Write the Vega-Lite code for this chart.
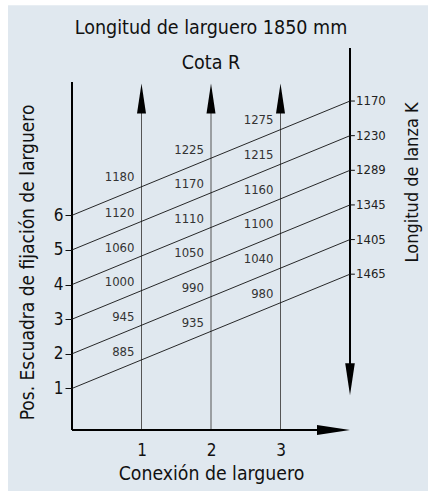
{
  "$schema": "https://vega.github.io/schema/vega-lite/v6.json",
  "width": 278,
  "height": 348,
  "autosize": {"type": "none"},
  "padding": {"left": 72, "top": 82, "right": 78, "bottom": 61},
  "background": "white",
  "config": {
    "view": {"stroke": null},
    "font": "Liberation Sans Narrow, DejaVu Sans Condensed, sans-serif"
  },
  "datasets": {
    "bg": [{"x": -0.921, "x2": 5.5, "y": 12.07, "y2": -3}],
    "titles": [
      {"x": 2, "y": 11.4, "t": "Longitud de larguero 1850 mm"},
      {"x": 2, "y": 10.39, "t": "Cota R"}
    ],
    "verticals": [
      {"x": 1, "y": -0.2, "y2": 9.5},
      {"x": 2, "y": -0.2, "y2": 9.5},
      {"x": 3, "y": -0.2, "y2": 9.5}
    ],
    "upTips": [
      {"x": 1, "y": 9.81},
      {"x": 2, "y": 9.81},
      {"x": 3, "y": 9.81}
    ],
    "leftAxis": [{"x": 0, "y": -0.2, "y2": 9.85}],
    "bottomAxis": [{"x": 0, "x2": 3.7, "y": -0.2}],
    "rightTip": [{"x": 4, "y": -0.2}],
    "kAxis": [{"x": 4, "y": 10.83, "y2": 1.6}],
    "downTip": [{"x": 4, "y": 0.8}],
    "lines": [
      {"k": 1, "x": 0, "y": 1}, {"k": 1, "x": 4, "y": 4.3},
      {"k": 2, "x": 0, "y": 2}, {"k": 2, "x": 4, "y": 5.3},
      {"k": 3, "x": 0, "y": 3}, {"k": 3, "x": 4, "y": 6.3},
      {"k": 4, "x": 0, "y": 4}, {"k": 4, "x": 4, "y": 7.3},
      {"k": 5, "x": 0, "y": 5}, {"k": 5, "x": 4, "y": 8.3},
      {"k": 6, "x": 0, "y": 6}, {"k": 6, "x": 4, "y": 9.3}
    ],
    "kLabels": [
      {"x": 4, "x2": 4.07, "y": 9.3, "K": "1170"},
      {"x": 4, "x2": 4.07, "y": 8.3, "K": "1230"},
      {"x": 4, "x2": 4.07, "y": 7.3, "K": "1289"},
      {"x": 4, "x2": 4.07, "y": 6.3, "K": "1345"},
      {"x": 4, "x2": 4.07, "y": 5.3, "K": "1405"},
      {"x": 4, "x2": 4.07, "y": 4.3, "K": "1465"}
    ],
    "rValues": [
      {"x": 1, "y": 7.1, "R": "1180"},
      {"x": 1, "y": 6.06, "R": "1120"},
      {"x": 1, "y": 5.07, "R": "1060"},
      {"x": 1, "y": 4.06, "R": "1000"},
      {"x": 1, "y": 3.05, "R": "945"},
      {"x": 1, "y": 2.04, "R": "885"},
      {"x": 2, "y": 7.88, "R": "1225"},
      {"x": 2, "y": 6.9, "R": "1170"},
      {"x": 2, "y": 5.9, "R": "1110"},
      {"x": 2, "y": 4.9, "R": "1050"},
      {"x": 2, "y": 3.9, "R": "990"},
      {"x": 2, "y": 2.88, "R": "935"},
      {"x": 3, "y": 8.74, "R": "1275"},
      {"x": 3, "y": 7.73, "R": "1215"},
      {"x": 3, "y": 6.74, "R": "1160"},
      {"x": 3, "y": 5.74, "R": "1100"},
      {"x": 3, "y": 4.73, "R": "1040"},
      {"x": 3, "y": 3.74, "R": "980"}
    ],
    "rightTitle": [{"x": 4, "y": 6.95, "t": "Longitud de lanza K"}]
  },
  "encoding": {
    "x": {
      "field": "x",
      "type": "quantitative",
      "scale": {"domain": [0, 4], "nice": false, "zero": false},
      "axis": {
        "values": [1, 2, 3],
        "domain": false,
        "ticks": false,
        "grid": false,
        "labelFontSize": 17,
        "labelColor": "#111111",
        "labelPadding": 12,
        "title": "Conexión de larguero",
        "titleFontSize": 19.3,
        "titleFontWeight": "normal",
        "titleColor": "#111111",
        "titlePadding": 6,
        "zindex": 1
      }
    },
    "y": {
      "field": "y",
      "type": "quantitative",
      "scale": {"domain": [-0.2, 9.85], "nice": false, "zero": false},
      "axis": {
        "values": [1, 2, 3, 4, 5, 6],
        "domain": false,
        "ticks": true,
        "tickSize": 7,
        "tickColor": "#111111",
        "tickWidth": 1,
        "grid": false,
        "labelFontSize": 17,
        "labelColor": "#111111",
        "labelPadding": 2,
        "title": "Pos. Escuadra de fijación de larguero",
        "titleFontSize": 19,
        "titleFontWeight": "normal",
        "titleColor": "#111111",
        "titlePadding": 16,
        "titleY": 180,
        "zindex": 1
      }
    }
  },
  "layer": [
    {
      "data": {"name": "bg"},
      "mark": {"type": "rect", "fill": "#e0e8ef"},
      "encoding": {"x2": {"field": "x2"}, "y2": {"field": "y2"}}
    },
    {
      "data": {"name": "titles"},
      "mark": {"type": "text", "align": "center", "baseline": "middle", "fontSize": 19.5, "fill": "#111111"},
      "encoding": {"text": {"field": "t"}}
    },
    {
      "data": {"name": "verticals"},
      "mark": {"type": "rule", "stroke": "#555555", "strokeWidth": 1},
      "encoding": {"y2": {"field": "y2"}}
    },
    {
      "data": {"name": "upTips"},
      "mark": {"type": "point", "shape": "M0,0L0.3,2L-0.3,2Z", "filled": true, "fill": "#000000", "strokeWidth": 0, "size": 900, "opacity": 1},
      "encoding": {}
    },
    {
      "data": {"name": "leftAxis"},
      "mark": {"type": "rule", "stroke": "#000000", "strokeWidth": 2},
      "encoding": {"y2": {"field": "y2"}}
    },
    {
      "data": {"name": "bottomAxis"},
      "mark": {"type": "rule", "stroke": "#000000", "strokeWidth": 2},
      "encoding": {"x2": {"field": "x2"}}
    },
    {
      "data": {"name": "rightTip"},
      "mark": {"type": "point", "shape": "M0,0L-2,-0.3L-2,0.3Z", "filled": true, "fill": "#000000", "strokeWidth": 0, "size": 1089, "opacity": 1},
      "encoding": {}
    },
    {
      "data": {"name": "kAxis"},
      "mark": {"type": "rule", "stroke": "#000000", "strokeWidth": 2},
      "encoding": {"y2": {"field": "y2"}}
    },
    {
      "data": {"name": "downTip"},
      "mark": {"type": "point", "shape": "M0,0L0.3,-2L-0.3,-2Z", "filled": true, "fill": "#000000", "strokeWidth": 0, "size": 1024, "opacity": 1},
      "encoding": {}
    },
    {
      "data": {"name": "lines"},
      "mark": {"type": "line", "stroke": "#111111", "strokeWidth": 0.9},
      "encoding": {"detail": {"field": "k", "type": "nominal"}}
    },
    {
      "data": {"name": "kLabels"},
      "mark": {"type": "rule", "stroke": "#111111", "strokeWidth": 1},
      "encoding": {"x2": {"field": "x2"}}
    },
    {
      "data": {"name": "kLabels"},
      "mark": {"type": "text", "align": "left", "baseline": "middle", "dx": 6, "fontSize": 13, "fill": "#222222"},
      "encoding": {"text": {"field": "K"}}
    },
    {
      "data": {"name": "rValues"},
      "mark": {"type": "text", "align": "right", "baseline": "middle", "dx": -7, "fontSize": 13, "fill": "#333333"},
      "encoding": {"text": {"field": "R"}}
    },
    {
      "data": {"name": "rightTitle"},
      "mark": {"type": "text", "align": "center", "baseline": "middle", "angle": 270, "dy": 63, "fontSize": 18, "fill": "#111111"},
      "encoding": {"text": {"field": "t"}}
    }
  ]
}
